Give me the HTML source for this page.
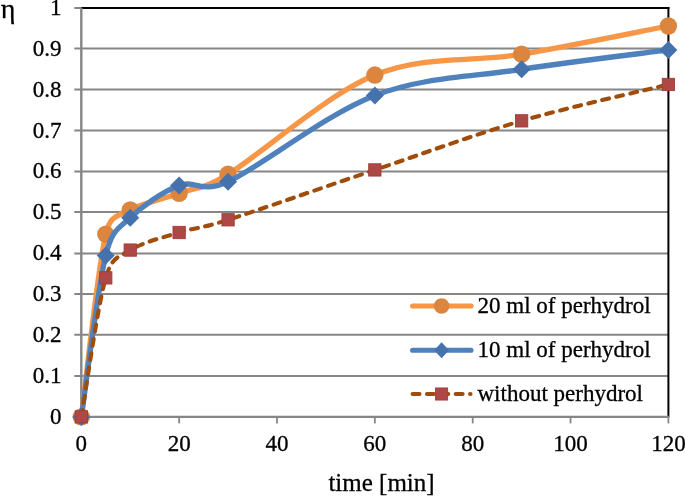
<!DOCTYPE html>
<html><head><meta charset="utf-8"><style>
html,body{margin:0;padding:0;background:#fff;width:685px;height:496px;overflow:hidden;}
svg{display:block;font-family:"Liberation Serif",serif;will-change:transform;}
text{stroke:#000;stroke-width:0.3px;}
</style></head><body>
<svg width="685" height="496" viewBox="0 0 685 496">
<rect width="685" height="496" fill="#fff"/>
<line x1="74.30" y1="375.90" x2="668.40" y2="375.90" stroke="#868686" stroke-width="2"/>
<line x1="74.30" y1="334.85" x2="668.40" y2="334.85" stroke="#868686" stroke-width="2"/>
<line x1="74.30" y1="294.05" x2="668.40" y2="294.05" stroke="#868686" stroke-width="2"/>
<line x1="74.30" y1="253.40" x2="668.40" y2="253.40" stroke="#868686" stroke-width="2"/>
<line x1="74.30" y1="212.00" x2="668.40" y2="212.00" stroke="#868686" stroke-width="2"/>
<line x1="74.30" y1="171.40" x2="668.40" y2="171.40" stroke="#868686" stroke-width="2"/>
<line x1="74.30" y1="130.50" x2="668.40" y2="130.50" stroke="#868686" stroke-width="2"/>
<line x1="74.30" y1="89.40" x2="668.40" y2="89.40" stroke="#868686" stroke-width="2"/>
<line x1="74.30" y1="48.45" x2="668.40" y2="48.45" stroke="#868686" stroke-width="2"/>
<line x1="74.30" y1="8.00" x2="81.30" y2="8.00" stroke="#868686" stroke-width="2"/>
<line x1="81.30" y1="8.00" x2="669.40" y2="8.00" stroke="#000" stroke-width="2"/>
<line x1="668.40" y1="7.00" x2="668.40" y2="416.90" stroke="#000" stroke-width="2"/>
<line x1="81.30" y1="8.00" x2="81.30" y2="416.90" stroke="#868686" stroke-width="2.4"/>
<line x1="74.30" y1="416.90" x2="669.40" y2="416.90" stroke="#868686" stroke-width="2.4"/>
<line x1="81.30" y1="416.90" x2="81.30" y2="423.40" stroke="#868686" stroke-width="1.8"/>
<line x1="179.15" y1="416.90" x2="179.15" y2="423.40" stroke="#868686" stroke-width="1.8"/>
<line x1="277.00" y1="416.90" x2="277.00" y2="423.40" stroke="#868686" stroke-width="1.8"/>
<line x1="374.85" y1="416.90" x2="374.85" y2="423.40" stroke="#868686" stroke-width="1.8"/>
<line x1="472.70" y1="416.90" x2="472.70" y2="423.40" stroke="#868686" stroke-width="1.8"/>
<line x1="570.55" y1="416.90" x2="570.55" y2="423.40" stroke="#868686" stroke-width="1.8"/>
<line x1="668.40" y1="416.90" x2="668.40" y2="423.40" stroke="#868686" stroke-width="1.8"/>
<text x="61.5" y="423.80" font-family="Liberation Serif, serif" font-size="23" text-anchor="end">0</text>
<text x="61.5" y="382.91" font-family="Liberation Serif, serif" font-size="23" text-anchor="end">0.1</text>
<text x="61.5" y="342.02" font-family="Liberation Serif, serif" font-size="23" text-anchor="end">0.2</text>
<text x="61.5" y="301.13" font-family="Liberation Serif, serif" font-size="23" text-anchor="end">0.3</text>
<text x="61.5" y="260.24" font-family="Liberation Serif, serif" font-size="23" text-anchor="end">0.4</text>
<text x="61.5" y="219.35" font-family="Liberation Serif, serif" font-size="23" text-anchor="end">0.5</text>
<text x="61.5" y="178.46" font-family="Liberation Serif, serif" font-size="23" text-anchor="end">0.6</text>
<text x="61.5" y="137.57" font-family="Liberation Serif, serif" font-size="23" text-anchor="end">0.7</text>
<text x="61.5" y="96.68" font-family="Liberation Serif, serif" font-size="23" text-anchor="end">0.8</text>
<text x="61.5" y="55.79" font-family="Liberation Serif, serif" font-size="23" text-anchor="end">0.9</text>
<text x="61.5" y="14.90" font-family="Liberation Serif, serif" font-size="23" text-anchor="end">1</text>
<text x="81.30" y="450.5" font-family="Liberation Serif, serif" font-size="23" text-anchor="middle">0</text>
<text x="179.15" y="450.5" font-family="Liberation Serif, serif" font-size="23" text-anchor="middle">20</text>
<text x="277.00" y="450.5" font-family="Liberation Serif, serif" font-size="23" text-anchor="middle">40</text>
<text x="374.85" y="450.5" font-family="Liberation Serif, serif" font-size="23" text-anchor="middle">60</text>
<text x="472.70" y="450.5" font-family="Liberation Serif, serif" font-size="23" text-anchor="middle">80</text>
<text x="570.55" y="450.5" font-family="Liberation Serif, serif" font-size="23" text-anchor="middle">100</text>
<text x="668.40" y="450.5" font-family="Liberation Serif, serif" font-size="23" text-anchor="middle">120</text>
<text x="381.5" y="490.8" font-family="Liberation Serif, serif" font-size="25" text-anchor="middle">time [min]</text>
<text x="0.8" y="17.9" font-family="Liberation Serif, serif" font-size="28">η</text>
<path d="M81.30,416.90 C85.38,386.44 97.61,268.61 105.76,234.12 C110.51,214.06 117.99,216.81 130.22,210.00 C142.46,203.18 162.84,199.19 179.15,193.23 C195.46,187.27 201.12,190.50 228.07,174.22 C260.69,154.52 325.93,95.06 374.85,75.06 C423.78,55.06 472.70,62.38 521.62,54.21 C570.55,46.03 643.94,30.69 668.40,25.99" fill="none" stroke="#F79646" stroke-width="5.3" stroke-linecap="round"/>
<circle cx="81.30" cy="416.90" r="8.7" fill="#DC853E"/>
<circle cx="105.76" cy="234.12" r="8.7" fill="#DC853E"/>
<circle cx="130.22" cy="210.00" r="8.7" fill="#DC853E"/>
<circle cx="179.15" cy="193.23" r="8.7" fill="#DC853E"/>
<circle cx="228.07" cy="174.22" r="8.7" fill="#DC853E"/>
<circle cx="374.85" cy="75.06" r="8.7" fill="#DC853E"/>
<circle cx="521.62" cy="54.21" r="8.7" fill="#DC853E"/>
<circle cx="668.40" cy="25.99" r="8.7" fill="#DC853E"/>
<path d="M81.30,416.90 C85.38,389.98 97.61,288.57 105.76,255.38 C112.19,229.24 117.99,229.42 130.22,217.77 C142.46,206.11 162.84,191.46 179.15,185.46 C195.46,179.47 201.33,194.08 228.07,181.78 C260.69,166.79 325.93,114.25 374.85,95.50 C423.78,76.76 472.70,76.93 521.62,69.33 C570.55,61.74 643.94,53.15 668.40,49.91" fill="none" stroke="#4F81BD" stroke-width="5.3" stroke-linecap="round"/>
<path d="M81.30,407.90 L90.30,416.90 L81.30,425.90 L72.30,416.90Z" fill="#4572AC"/>
<path d="M105.76,246.38 L114.76,255.38 L105.76,264.38 L96.76,255.38Z" fill="#4572AC"/>
<path d="M130.22,208.77 L139.22,217.77 L130.22,226.77 L121.22,217.77Z" fill="#4572AC"/>
<path d="M179.15,176.46 L188.15,185.46 L179.15,194.46 L170.15,185.46Z" fill="#4572AC"/>
<path d="M228.07,172.78 L237.07,181.78 L228.07,190.78 L219.07,181.78Z" fill="#4572AC"/>
<path d="M374.85,86.50 L383.85,95.50 L374.85,104.50 L365.85,95.50Z" fill="#4572AC"/>
<path d="M521.62,60.33 L530.62,69.33 L521.62,78.33 L512.62,69.33Z" fill="#4572AC"/>
<path d="M668.40,40.91 L677.40,49.91 L668.40,58.91 L659.40,49.91Z" fill="#4572AC"/>
<path d="M81.30,416.90 C85.38,393.73 97.61,305.68 105.76,277.87 C112.02,256.55 117.99,257.63 130.22,250.07 C142.46,242.50 162.84,237.53 179.15,232.49 C195.46,227.44 199.19,229.04 228.07,219.81 C260.69,209.38 325.93,186.42 374.85,169.92 C423.78,153.43 472.70,135.10 521.62,120.86 C570.55,106.61 643.94,90.53 668.40,84.46" fill="none" stroke="#A04D0C" stroke-width="4.1" stroke-linecap="round" stroke-dasharray="6.9 7.47" stroke-dashoffset="-0.15"/>
<rect x="75.15" y="410.75" width="12.30" height="12.30" fill="#AD4846" stroke="#A03C3B" stroke-width="0.9"/>
<rect x="99.61" y="271.72" width="12.30" height="12.30" fill="#AD4846" stroke="#A03C3B" stroke-width="0.9"/>
<rect x="124.08" y="243.92" width="12.30" height="12.30" fill="#AD4846" stroke="#A03C3B" stroke-width="0.9"/>
<rect x="173.00" y="226.34" width="12.30" height="12.30" fill="#AD4846" stroke="#A03C3B" stroke-width="0.9"/>
<rect x="221.92" y="213.66" width="12.30" height="12.30" fill="#AD4846" stroke="#A03C3B" stroke-width="0.9"/>
<rect x="368.70" y="163.77" width="12.30" height="12.30" fill="#AD4846" stroke="#A03C3B" stroke-width="0.9"/>
<rect x="515.48" y="114.71" width="12.30" height="12.30" fill="#AD4846" stroke="#A03C3B" stroke-width="0.9"/>
<rect x="662.25" y="78.31" width="12.30" height="12.30" fill="#AD4846" stroke="#A03C3B" stroke-width="0.9"/>
<line x1="412.6" y1="306.0" x2="471.0" y2="306.0" stroke="#F79646" stroke-width="5.1" stroke-linecap="round"/>
<circle cx="441.60" cy="306.00" r="7.8" fill="#DC853E"/>
<line x1="412.6" y1="350.3" x2="471.0" y2="350.3" stroke="#4F81BD" stroke-width="5.1" stroke-linecap="round"/>
<path d="M441.60,342.30 L449.00,350.30 L441.60,358.30 L434.20,350.30Z" fill="#4572AC"/>
<line x1="412.6" y1="394.0" x2="470.5" y2="394.0" stroke="#A04D0C" stroke-width="4.1" stroke-linecap="round" stroke-dasharray="6.9 7.47"/>
<rect x="435.55" y="387.95" width="12.10" height="12.10" fill="#AD4846" stroke="#A03C3B" stroke-width="0.9"/>
<text x="477.5" y="312.70" font-family="Liberation Serif, serif" font-size="23">20 ml of perhydrol</text>
<text x="477.5" y="357.00" font-family="Liberation Serif, serif" font-size="23">10 ml of perhydrol</text>
<text x="477.5" y="400.70" font-family="Liberation Serif, serif" font-size="23">without perhydrol</text>
</svg>
</body></html>
